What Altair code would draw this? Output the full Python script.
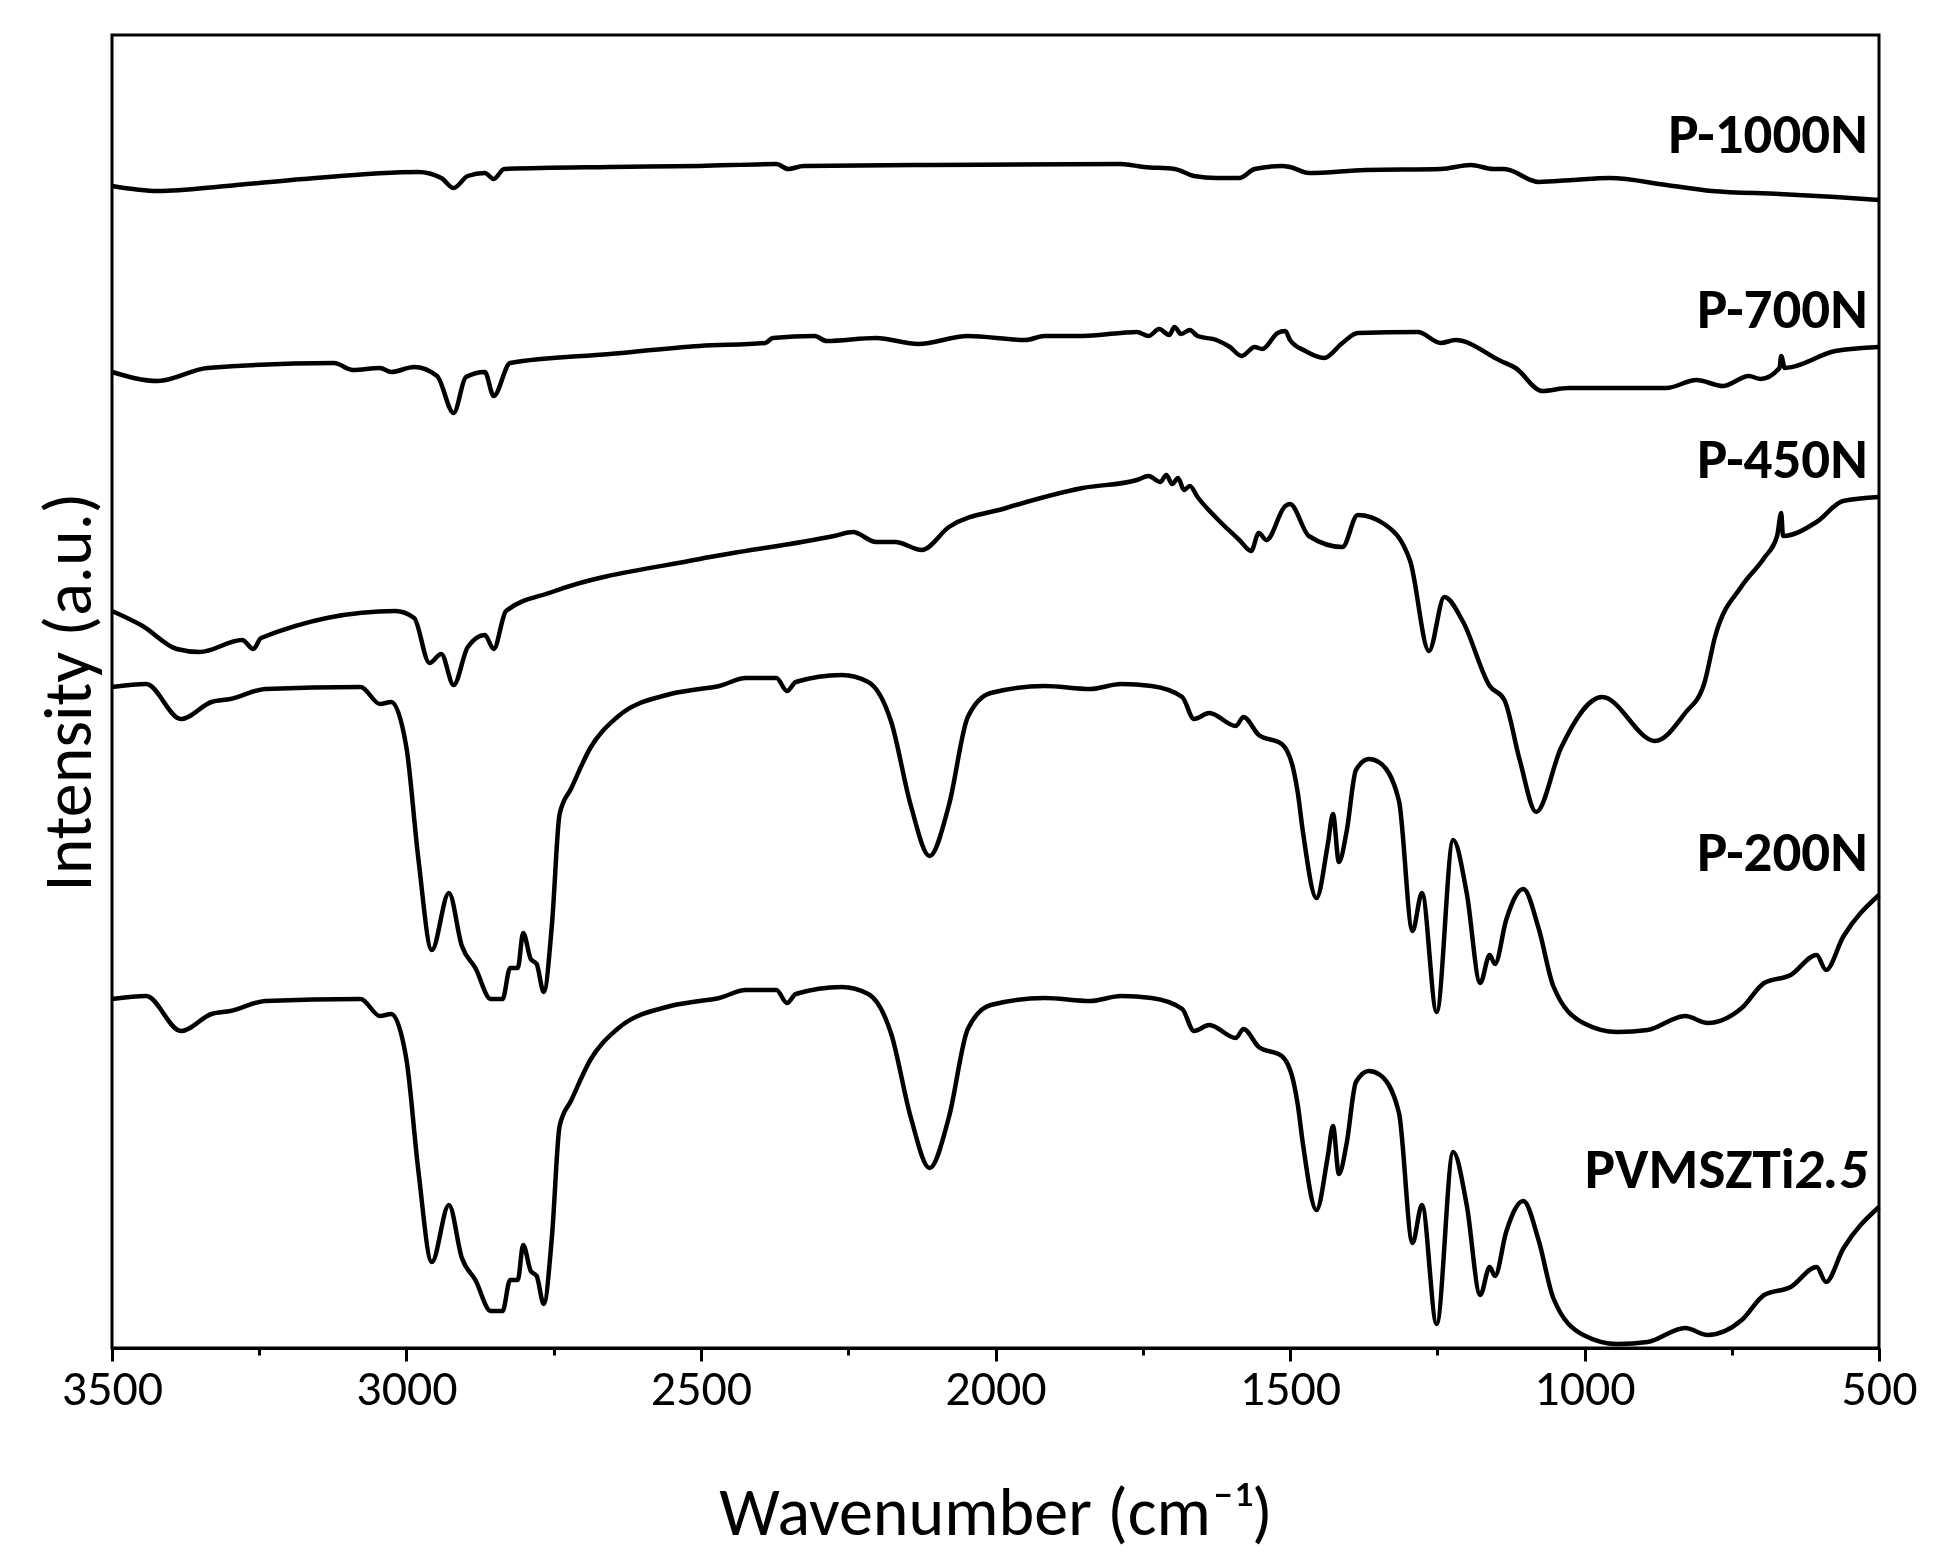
import altair as alt
import pandas as pd

# ---------------- data ----------------
series_names = ["P-1000N", "P-700N", "P-450N", "P-200N", "PVMSZTi2.5"]

wn_1000 = [3500, 3422, 3305, 3175, 2980, 2941, 2920, 2896, 2867, 2852, 2834, 2655, 2502, 2372, 2352,
           2326, 2112, 1787, 1748, 1696, 1663, 1625, 1586, 1560, 1514, 1500, 1468, 1372, 1244, 1193,
           1155, 1136, 1078, 1021, 957, 861, 784, 669, 574, 500]
int_1000 = [1162, 1157, 1162, 1169, 1176, 1170, 1160, 1172, 1175, 1169, 1179, 1181, 1182, 1184, 1179,
            1182, 1183, 1184, 1181, 1179, 1172, 1170, 1170, 1179, 1182, 1181, 1175, 1178, 1179, 1183,
            1179, 1179, 1166, 1168, 1170, 1163, 1157, 1154, 1151, 1148]

wn_700 = [3500, 3422, 3338, 3123, 3091, 3045, 3026, 2987, 2948, 2920, 2899, 2867, 2852, 2824, 2655,
          2502, 2391, 2378, 2307, 2287, 2203, 2131, 2047, 1949, 1917, 1852, 1787, 1760, 1740, 1722,
          1705, 1696, 1685, 1670, 1657, 1625, 1602, 1582, 1560, 1547, 1521, 1508, 1500, 1474, 1442,
          1411, 1385, 1283, 1244, 1219, 1142, 1117, 1072, 1027, 861, 810, 765, 721, 701, 669, 666,
          660, 574, 500]
int_700 = [976, 967, 980, 985, 978, 980, 976, 981, 972, 935, 971, 976, 952, 985, 994,
           1002, 1005, 1010, 1012, 1007, 1010, 1004, 1012, 1008, 1012, 1012, 1015, 1016, 1012, 1019,
           1013, 1021, 1014, 1018, 1012, 1008, 1001, 992, 1001, 999, 1015, 1017, 1008, 997, 990,
           1005, 1015, 1016, 1005, 1008, 987, 980, 957, 960, 960, 968, 962, 972, 969, 980, 992,
           980, 997, 1001]

wn_450 = [3500, 3448, 3390, 3351, 3279, 3260, 3247, 3019, 2987, 2961, 2941, 2920, 2896, 2867, 2852,
          2831, 2753, 2502, 2274, 2242, 2203, 2170, 2125, 2079, 1982, 1852, 1760, 1740, 1720, 1710,
          1700, 1690, 1680, 1670, 1657, 1625, 1586, 1566, 1553, 1540, 1508, 1500, 1468, 1411, 1385,
          1340, 1296, 1264, 1238, 1206, 1161, 1136, 1110, 1082, 1040, 970, 880, 829, 797, 778, 733,
          695, 673, 666, 663, 606, 561, 500]
int_450 = [737, 722, 699, 696, 708, 699, 710, 737, 730, 685, 694, 663, 701, 713, 699,
           737, 756, 789, 812, 816, 806, 806, 798, 821, 840, 860, 868, 872, 866, 873,
           864, 870, 858, 862, 851, 830, 808, 797, 815, 808, 842, 844, 812, 801, 833,
           824, 787, 697, 751, 726, 662, 648, 588, 536, 600, 651, 607, 635, 664, 712, 762,
           790, 812, 835, 812, 826, 847, 851]

wn_200 = [3500, 3442, 3383, 3331, 3299, 3240, 3078, 3045, 3026, 3000, 2980, 2957, 2928, 2906, 2883,
          2857, 2837, 2824, 2811, 2802, 2789, 2779, 2767, 2753, 2740, 2720, 2688, 2642, 2558, 2502,
          2469, 2424, 2372, 2354, 2339, 2261, 2216, 2177, 2144, 2112, 2079, 2047, 2008, 1917, 1839,
          1787, 1735, 1683, 1663, 1637, 1592, 1579, 1553, 1514, 1494, 1487, 1478, 1455, 1436, 1427,
          1417, 1404, 1388, 1366, 1347, 1315, 1292, 1276, 1251, 1223, 1200, 1177, 1161, 1152, 1133,
          1104, 1078, 1053, 1002, 944, 893, 829, 791, 733, 695, 650, 606, 590, 561, 500]
int_200 = [661, 664, 629, 646, 649, 659, 661, 644, 646, 600, 490, 398, 455, 402, 380,
           349, 349, 380, 380, 415, 389, 384, 356, 424, 534, 560, 600, 631, 653, 659,
           662, 670, 670, 657, 666, 673, 666, 626, 543, 492, 543, 631, 655, 662, 659,
           664, 662, 651, 629, 635, 622, 631, 613, 604, 578, 556, 516, 450, 503, 534,
           486, 516, 578, 589, 585, 547, 417, 455, 336, 508, 455, 365, 393, 384, 428,
           459, 420, 362, 325, 316, 318, 332, 325, 340, 365, 373, 393, 378, 411, 453]

wn_pv = wn_200
int_pv = [349, 352, 317, 334, 337, 347, 349, 332, 334, 288, 178, 86, 143, 90, 68,
          37, 37, 68, 68, 103, 77, 72, 44, 112, 222, 248, 288, 319, 341, 347,
          350, 358, 358, 345, 354, 361, 354, 314, 231, 180, 231, 319, 343, 350, 347,
          352, 350, 339, 317, 323, 310, 319, 301, 292, 266, 244, 204, 138, 191, 222,
          174, 204, 266, 277, 273, 235, 105, 143, 24, 196, 143, 53, 81, 72, 116,
          147, 108, 50, 13, 4, 6, 20, 13, 28, 53, 61, 81, 66, 99, 141]

# series label anchors (right edge, baseline)
label_text = ["P-1000N", "P-700N", "P-450N", "P-200N"]
label_wn = [519, 519, 519, 519]
label_int = [1195, 1020, 870, 477]
pv_label_main = "PVMSZTi"
pv_label_italic = "2.5"
pv_label_wn = 519
pv_label_int = 160

x_ticks = [3500, 3250, 3000, 2750, 2500, 2250, 2000, 1750, 1500, 1250, 1000, 750, 500]

# ---------------- build tables ----------------
rows = []
for name, wns, vals in zip(series_names,
                           [wn_1000, wn_700, wn_450, wn_200, wn_pv],
                           [int_1000, int_700, int_450, int_200, int_pv]):
    for w, v in zip(wns, vals):
        rows.append({"series": name, "wn": w, "intensity": v})
df = pd.DataFrame(rows)

lab_df = pd.DataFrame({"label": label_text, "wn": label_wn, "intensity": label_int})
pv_main_df = pd.DataFrame({"label": [pv_label_main], "wn": [pv_label_wn], "intensity": [pv_label_int]})
pv_ital_df = pd.DataFrame({"label": [pv_label_italic], "wn": [pv_label_wn], "intensity": [pv_label_int]})

FONT = "Carlito, Lato, sans-serif"
LABEL_SIZE = 57

x_scale = alt.Scale(domain=[3500, 500], nice=False, zero=False)
y_scale = alt.Scale(domain=[0, 1313], nice=False, zero=False)

x_axis = alt.Axis(
    values=x_ticks,
    format="d",
    labelExpr="datum.value % 500 === 0 ? datum.label : ''",
    tickSize={"expr": "datum.value % 500 === 0 ? 13 : 7"},
    tickWidth=3,
    tickColor="black",
    domainColor="black",
    domainWidth=3,
    grid=False,
    labelFont=FONT,
    labelFontSize=50,
    labelColor="black",
    labelPadding=3,
    labelFlush=False,
    labelOverlap=False,
    title="Wavenumber (cm⁻¹)",
    titleFont=FONT,
    titleFontSize=68,
    titleFontWeight="normal",
    titleColor="black",
    titlePadding=66,
)
y_axis = alt.Axis(
    labels=False,
    ticks=False,
    domain=False,
    grid=False,
    title="Intensity (a.u.)",
    titleFont=FONT,
    titleFontSize=68,
    titleFontWeight="normal",
    titleColor="black",
    titlePadding=8,
)

lines = alt.Chart(df).mark_line(color="black", strokeWidth=4.5, interpolate="monotone").encode(
    x=alt.X("wn:Q", scale=x_scale, axis=x_axis),
    y=alt.Y("intensity:Q", scale=y_scale, axis=y_axis),
    detail="series:N",
    order=alt.Order("wn:Q", sort="descending"),
)

labels = alt.Chart(lab_df).mark_text(
    align="right", baseline="alphabetic", font=FONT, fontWeight="bold", fontSize=LABEL_SIZE, color="black"
).encode(x=alt.X("wn:Q", scale=x_scale), y=alt.Y("intensity:Q", scale=y_scale), text="label:N")

pv_main = alt.Chart(pv_main_df).mark_text(
    align="right", baseline="alphabetic", font=FONT, fontWeight="bold", fontSize=LABEL_SIZE,
    color="black", dx=-73
).encode(x=alt.X("wn:Q", scale=x_scale), y=alt.Y("intensity:Q", scale=y_scale), text="label:N")

pv_ital = alt.Chart(pv_ital_df).mark_text(
    align="right", baseline="alphabetic", font=FONT, fontWeight="bold", fontStyle="italic",
    fontSize=LABEL_SIZE, color="black"
).encode(x=alt.X("wn:Q", scale=x_scale), y=alt.Y("intensity:Q", scale=y_scale), text="label:N")

chart = alt.layer(lines, labels, pv_main, pv_ital).properties(
    width=1767,
    height=1313,
    autosize=alt.AutoSizeParams(type="none"),
    padding={"left": 112, "top": 35, "right": 74, "bottom": 217},
    background="white",
).configure_view(stroke="black", strokeWidth=3)

chart.save("out.html", embed_options={"renderer": "svg", "actions": False})
